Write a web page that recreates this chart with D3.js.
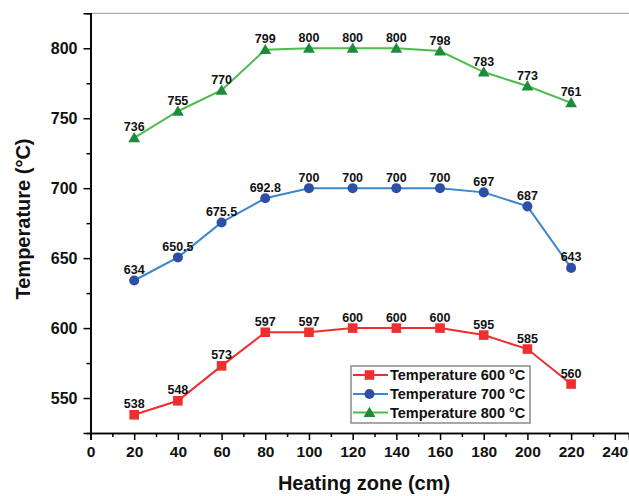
<!DOCTYPE html>
<html><head><meta charset="utf-8">
<script src="https://cdn.jsdelivr.net/npm/d3@7"></script>
<style>body{margin:0;background:#fff;} svg{display:block;font-family:"Liberation Sans",Arial,sans-serif;}</style>
</head><body>
<script>
const zones = [20, 40, 60, 80, 100, 120, 140, 160, 180, 200, 220];
const t600 = [538, 548, 573, 597, 597, 600, 600, 600, 595, 585, 560];
const t700 = [634, 650.5, 675.5, 692.8, 700, 700, 700, 700, 697, 687, 643];
const t800 = [736, 755, 770, 799, 800, 800, 800, 798, 783, 773, 761];
const xTicks = [0, 20, 40, 60, 80, 100, 120, 140, 160, 180, 200, 220, 240];
const yTicks = [550, 600, 650, 700, 750, 800];
const seriesNames = ["Temperature 600 °C", "Temperature 700 °C", "Temperature 800 °C"];

const W = 629, H = 496;
const svg = d3.select("body").append("svg").attr("width", W).attr("height", H);
const x = d3.scaleLinear().domain([0, 246.5]).range([90.5, 629]);
const y = d3.scaleLinear().domain([525, 825]).range([433, 13.3]);

// top border
svg.append("line").attr("x1", 90.5).attr("x2", 629).attr("y1", 13.3).attr("y2", 13.3)
  .attr("stroke", "#aaa").attr("stroke-width", 1.2);

// minor ticks
const xAxisG = svg.append("g").attr("transform", `translate(0,${y.range()[0]})`);
xAxisG.call(d3.axisBottom(x).tickValues(d3.range(10, 250, 20)).tickSize(4).tickFormat(""));
xAxisG.append("g").call(d3.axisBottom(x).tickValues(xTicks).tickSize(7).tickPadding(6).tickFormat(d3.format("d")));
xAxisG.selectAll("path.domain").attr("stroke", "#000").attr("stroke-width", 1.6);
xAxisG.selectAll(".tick line").attr("stroke", "#000").attr("stroke-width", 1.5);
xAxisG.selectAll(".tick text").attr("font-size", 15.5).attr("font-weight", "bold").attr("fill", "#111")
  .attr("font-family", "'Liberation Sans',Arial,sans-serif");

const yAxisG = svg.append("g").attr("transform", `translate(90.5,0)`);
yAxisG.call(d3.axisLeft(y).tickValues([575, 625, 675, 725, 775]).tickSize(4).tickFormat(""));
yAxisG.append("g").call(d3.axisLeft(y).tickValues(yTicks).tickSize(7).tickPadding(6).tickFormat(d3.format("d")));
yAxisG.selectAll("path.domain").attr("stroke", "#000").attr("stroke-width", 1.6);
yAxisG.selectAll(".tick line").attr("stroke", "#000").attr("stroke-width", 1.5);
yAxisG.selectAll(".tick text").attr("font-size", 16).attr("font-weight", "bold").attr("fill", "#111")
  .attr("font-family", "'Liberation Sans',Arial,sans-serif");

// titles
svg.append("text").attr("x", 364).attr("y", 490).attr("text-anchor", "middle")
  .attr("font-size", 20).attr("font-weight", "bold").attr("fill", "#111").text("Heating zone (cm)");
svg.append("text").attr("transform", "translate(29.5,219) rotate(-90)").attr("text-anchor", "middle")
  .attr("font-size", 20).attr("font-weight", "bold").attr("fill", "#111").text("Temperature (°C)");

const series = [
  {vals: t600, line: "#f02d2d", mark: "#ec3030", shape: "square"},
  {vals: t700, line: "#3b87cf", mark: "#2f4ea6", shape: "circle"},
  {vals: t800, line: "#4cbc4c", mark: "#1d8b3b", shape: "triangle"}
];
const symFor = s => s === "square" ? d3.symbol(d3.symbolSquare, 92)
  : s === "circle" ? d3.symbol(d3.symbolCircle, 80) : d3.symbol(d3.symbolTriangle, 60);

const lineGen = d3.line().x(d => x(d[0])).y(d => y(d[1]));
series.forEach(s => {
  const pts = zones.map((z, i) => [z, s.vals[i]]);
  svg.append("path").attr("d", lineGen(pts)).attr("fill", "none").attr("stroke", s.line).attr("stroke-width", 2);
  svg.selectAll(null).data(pts).enter().append("path")
    .attr("d", symFor(s.shape)())
    .attr("transform", d => `translate(${x(d[0])},${y(d[1]) + (s.shape === "triangle" ? 1 : 0)})`)
    .attr("fill", s.mark);
  svg.selectAll(null).data(pts).enter().append("text")
    .attr("x", d => x(d[0])).attr("y", d => y(d[1]) - 6.5)
    .attr("text-anchor", "middle").attr("font-size", 12.5).attr("font-weight", "bold").attr("fill", "#111")
    .text(d => d[1]);
});

// legend
const lg = svg.append("g");
lg.append("rect").attr("x", 351).attr("y", 366).attr("width", 179).attr("height", 57)
  .attr("fill", "#fff").attr("stroke", "#8a8a8a").attr("stroke-width", 1.5);
const rowsY = [375, 394, 412.5];
series.forEach((s, i) => {
  lg.append("line").attr("x1", 353).attr("x2", 388).attr("y1", rowsY[i]).attr("y2", rowsY[i])
    .attr("stroke", s.line).attr("stroke-width", 2);
  lg.append("path").attr("d", symFor(s.shape)())
    .attr("transform", `translate(369.5,${rowsY[i] + (s.shape === "triangle" ? 1 : 0)})`).attr("fill", s.mark);
  lg.append("text").attr("x", 390).attr("y", rowsY[i] + 5).attr("font-size", 14.5).attr("font-weight", "bold")
    .attr("fill", "#111").text(seriesNames[i]);
});
</script>
</body></html>
